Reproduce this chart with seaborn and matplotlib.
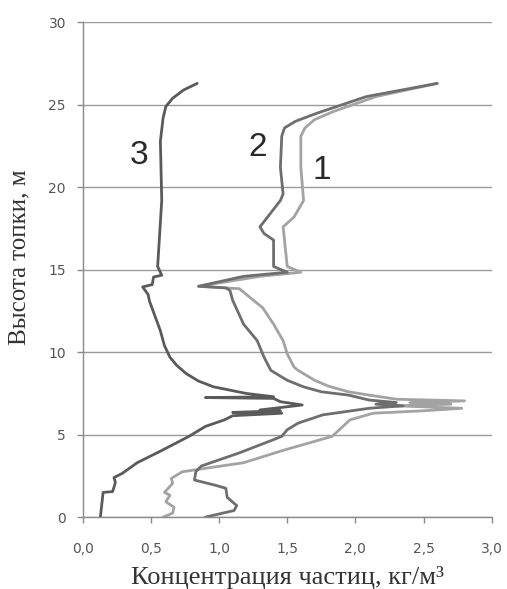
import matplotlib
matplotlib.use("Agg")
import matplotlib.pyplot as plt
import matplotlib.ticker as mticker
import pandas as pd
import seaborn as sns

# curve 1 (light gray)
y1 = [0, 0.25, 0.6, 0.93, 1.33, 1.5, 2.05, 2.35, 2.75, 2.9, 3.3, 4.05, 4.9, 5.9,
      6.3, 6.45, 6.6, 6.75, 6.85, 6.95, 7.05, 7.15, 7.4, 7.6, 7.95, 8.3, 8.9, 9.1,
      9.9, 10.7, 11.7, 12.7, 13.3, 13.85, 14.0, 14.6, 14.85, 15.2, 16.8, 17.6, 18.2,
      19.2, 21.2, 23.1, 23.6, 24.1, 24.6, 25.5, 26.3]
x1 = [0.59, 0.66, 0.67, 0.61, 0.64, 0.6, 0.66, 0.65, 0.73, 0.85, 1.18, 1.47, 1.83, 1.96,
      2.13, 2.5, 2.78, 2.3, 2.7, 2.4, 2.8, 2.3, 2.1, 1.95, 1.8, 1.7, 1.58, 1.55,
      1.5, 1.47, 1.4, 1.32, 1.23, 1.15, 0.85, 1.3, 1.6, 1.5, 1.48, 1.47, 1.55,
      1.62, 1.6, 1.6, 1.63, 1.7, 1.84, 2.15, 2.6]

# curve 2 (mid gray)
y2 = [0, 0.23, 0.4, 0.7, 1.2, 1.75, 1.94, 2.25, 2.75, 3.1, 3.9, 4.7, 4.9, 5.3, 5.7,
      6.2, 6.6, 6.75, 6.85, 6.95, 7.1, 7.4, 7.6, 7.9, 8.3, 8.7, 8.9, 9.7, 10.7, 11.7,
      13.15, 13.75, 13.9, 14.0, 14.6, 14.85, 15.2, 16.8, 17.2, 17.6, 19.2, 19.6,
      21.2, 23.1, 23.6, 24.0, 24.5, 25.5, 26.3]
x2 = [0.9, 1.02, 1.11, 1.13, 1.06, 1.05, 0.97, 0.82, 0.83, 0.87, 1.15, 1.4, 1.46, 1.5, 1.58,
      1.76, 2.1, 2.35, 2.15, 2.3, 2.1, 1.95, 1.75, 1.62, 1.5, 1.42, 1.38, 1.33, 1.28, 1.18,
      1.1, 1.08, 1.05, 0.85, 1.18, 1.5, 1.4, 1.4, 1.33, 1.3, 1.45, 1.47,
      1.45, 1.46, 1.48, 1.56, 1.72, 2.08, 2.6]

# curve 3 (dark gray)
y3 = [0, 1.5, 1.55, 2.1, 2.4, 2.65, 3.3, 4.0, 4.9, 5.5, 5.9, 6.15, 6.3, 6.35, 6.45,
      6.5, 6.8, 7.0, 7.2, 7.25, 7.3, 7.5, 7.9, 8.25, 8.7, 9.2, 9.7, 10.4, 11.3, 13.1,
      13.5, 13.96, 14.1, 14.56, 14.67, 15.2, 19.2, 22.8, 24.2, 24.9, 25.4, 25.9, 26.3]
x3 = [0.13, 0.15, 0.22, 0.24, 0.23, 0.29, 0.4, 0.57, 0.78, 0.9, 1.04, 1.1, 1.46, 1.1, 1.45,
      1.3, 1.61, 1.45, 1.4, 0.9, 1.4, 1.2, 0.96, 0.85, 0.76, 0.69, 0.64, 0.6, 0.57, 0.49,
      0.48, 0.44, 0.51, 0.52, 0.58, 0.55, 0.58, 0.57, 0.59, 0.61, 0.66, 0.74, 0.84]

curve_names = ["1", "2", "3"]
curve_colors = ["#a3a3a3", "#6e6e6e", "#5a5a5a"]
label_pos = [(1.75, 21.0), (1.28, 22.4), (0.41, 21.9)]

sns.set_style("white")

fig = plt.figure(figsize=(5.07, 5.89), dpi=100)
ax = fig.add_axes([0.163, 0.122, 0.807, 0.84])

for name, xs, ys, col in zip(curve_names, [x1, x2, x3], [y1, y2, y3], curve_colors):
    df = pd.DataFrame({"x": xs, "y": ys})
    sns.lineplot(data=df, x="x", y="y", sort=False, estimator=None, color=col,
                 linewidth=2.0, ax=ax)

for name, (lx, ly) in zip(curve_names, label_pos):
    ax.text(lx, ly, name, fontsize=24, family="Liberation Sans", color="#2a2a2a",
            ha="center", va="center")

ax.set_xlim(0, 3.0)
ax.set_ylim(0, 30)
ax.set_xticks([0, 0.5, 1.0, 1.5, 2.0, 2.5, 3.0])
ax.set_yticks([0, 5, 10, 15, 20, 25, 30])
ax.xaxis.set_major_formatter(mticker.FuncFormatter(lambda v, p: f"{v:.1f}".replace(".", ",")))
ax.yaxis.set_major_formatter(mticker.FuncFormatter(lambda v, p: f"{v:.0f}"))
ax.yaxis.grid(True, color="#9a9a9a", linewidth=1.0)
ax.xaxis.grid(False)
ax.set_axisbelow(True)

for s in ["top", "right"]:
    ax.spines[s].set_visible(False)
for s in ["left", "bottom"]:
    ax.spines[s].set_color("#8a8a8a")
    ax.spines[s].set_linewidth(1.0)

ax.tick_params(axis="both", direction="out", length=4, width=1, color="#8a8a8a",
               labelsize=10, labelcolor="#555555")
ax.tick_params(axis="x", pad=14)
ax.tick_params(axis="y", pad=8)
ax.tick_params(bottom=True, left=True)

ax.set_xlabel("Концентрация частиц, кг/м³", family="Liberation Serif", fontsize=19,
              color="#333333")
ax.set_ylabel("Высота топки, м", family="Liberation Serif", fontsize=18,
              color="#333333")
ax.xaxis.set_label_coords(0.5, -0.098)
ax.yaxis.set_label_coords(-0.128, 0.526)

fig.savefig("out.png", dpi=100)
